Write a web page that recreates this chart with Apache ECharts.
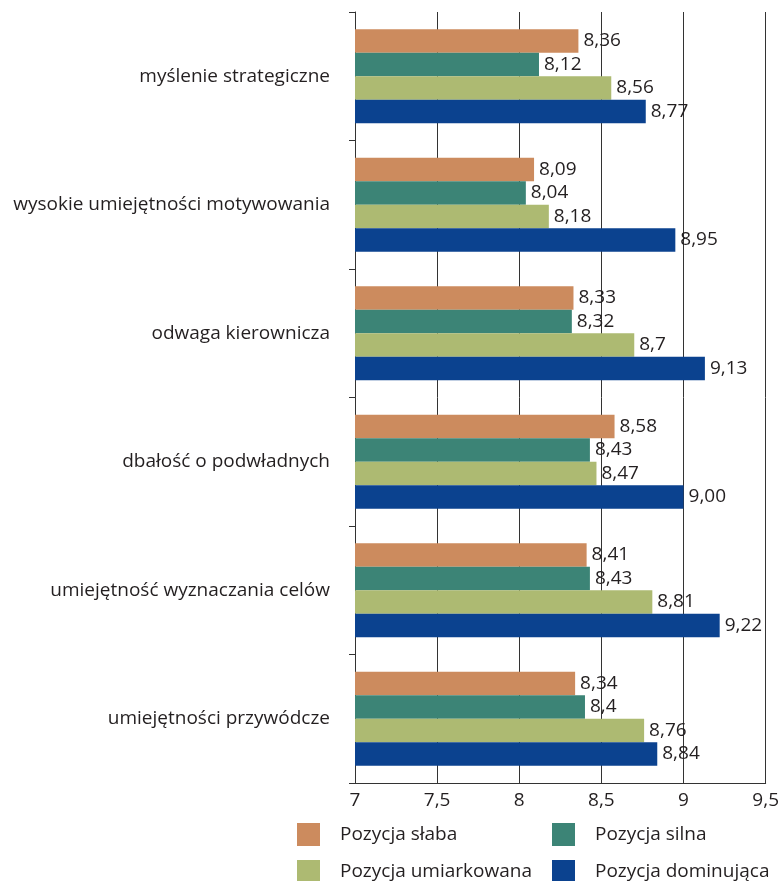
<!DOCTYPE html>
<html>
<head>
<meta charset="utf-8">
<script src="https://cdn.jsdelivr.net/npm/echarts@6/dist/echarts.min.js"></script>
<style>
  html, body { margin: 0; padding: 0; background: #fff; }
  #chart { width: 782px; height: 881px; }
</style>
</head>
<body>
<div id="chart"></div>
<script>
// Categories, listed top to bottom
const categories = [
  'myślenie strategiczne',
  'wysokie umiejętności motywowania',
  'odwaga kierownicza',
  'dbałość o podwładnych',
  'umiejętność wyznaczania celów',
  'umiejętności przywódcze'
];

// Mean scores per position (kept as text so the printed decimals stay as written)
const pozycjaSlaba = ['8.36', '8.09', '8.33', '8.58', '8.41', '8.34'];
const pozycjaSilna = ['8.12', '8.04', '8.32', '8.43', '8.43', '8.4'];
const pozycjaUmiarkowana = ['8.56', '8.18', '8.7', '8.47', '8.81', '8.76'];
const pozycjaDominujaca = ['8.77', '8.95', '9.13', '9.00', '9.22', '8.84'];

const seriesNames = ['Pozycja słaba', 'Pozycja silna', 'Pozycja umiarkowana', 'Pozycja dominująca'];
const xTicks = [7, 7.5, 8, 8.5, 9, 9.5];

const colors = ['#CC8B5E', '#3C8476', '#ADBA72', '#0B428F'];
const FONT = 'Open Sans';
const TEXT = '#231F20';
const FS = 19;

function makeSeries(name, values, color) {
  return {
    name: name,
    type: 'bar',
    barWidth: 23.5,
    barGap: '0%',
    itemStyle: { color: color },
    data: values.map(v => parseFloat(v)),
    label: {
      show: true,
      position: 'right',
      distance: 5,
      color: TEXT,
      fontFamily: FONT,
      fontSize: FS,
      formatter: p => values[p.dataIndex].replace('.', ',')
    }
  };
}

// One legend block per entry, laid out as a 2 x 2 grid
function legendItem(name, left, top) {
  return {
    orient: 'horizontal',
    left: left,
    top: top,
    itemWidth: 23,
    itemHeight: 23,
    icon: 'rect',
    padding: 0,
    textStyle: { fontSize: FS, color: TEXT, fontFamily: FONT, padding: [0, 0, 0, 15] },
    data: [name]
  };
}

const chart = echarts.init(document.getElementById('chart'), null, { renderer: 'canvas' });
chart.setOption({
  animation: false,
  backgroundColor: '#ffffff',
  textStyle: { fontFamily: FONT },
  grid: { left: 355, right: 12, top: 12, bottom: 98, containLabel: false },
  legend: [
    legendItem(seriesNames[0], 297, 823),
    legendItem(seriesNames[1], 552, 823),
    legendItem(seriesNames[2], 297, 860),
    legendItem(seriesNames[3], 552, 860)
  ],
  xAxis: {
    type: 'value',
    min: xTicks[0],
    max: xTicks[xTicks.length - 1],
    interval: 0.5,
    axisLine: { show: true, lineStyle: { color: '#333', width: 1 } },
    axisTick: { show: false },
    axisLabel: {
      color: TEXT,
      fontSize: FS,
      fontFamily: FONT,
      margin: 8,
      formatter: v => String(v).replace('.', ',')
    },
    splitLine: { show: true, lineStyle: { color: '#333', width: 1 } }
  },
  yAxis: {
    type: 'category',
    inverse: true,
    data: categories,
    axisLine: { show: true, lineStyle: { color: '#333', width: 1 } },
    axisTick: { show: true, length: 6, lineStyle: { color: '#333' } },
    axisLabel: {
      color: TEXT,
      fontSize: FS,
      fontFamily: FONT,
      margin: 25
    }
  },
  series: [
    makeSeries(seriesNames[0], pozycjaSlaba, colors[0]),
    makeSeries(seriesNames[1], pozycjaSilna, colors[1]),
    makeSeries(seriesNames[2], pozycjaUmiarkowana, colors[2]),
    makeSeries(seriesNames[3], pozycjaDominujaca, colors[3])
  ]
});
</script>
</body>
</html>
